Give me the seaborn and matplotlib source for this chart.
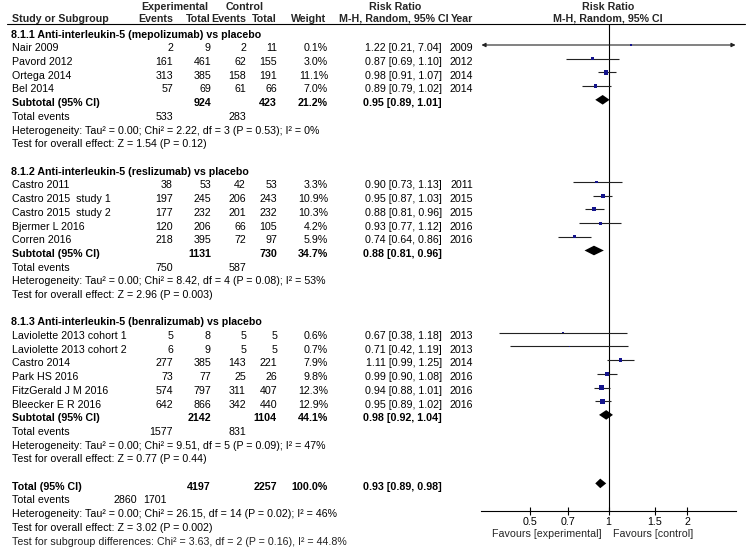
import matplotlib
matplotlib.use("Agg")
import matplotlib.pyplot as plt
from matplotlib.ticker import NullLocator
import numpy as np
import pandas as pd
import seaborn as sns

# ---------------- data ----------------
group_titles = [
    "8.1.1 Anti-interleukin-5 (mepolizumab) vs placebo",
    "8.1.2 Anti-interleukin-5 (reslizumab) vs placebo",
    "8.1.3 Anti-interleukin-5 (benralizumab) vs placebo",
]
study_group = [0, 0, 0, 0, 1, 1, 1, 1, 1, 2, 2, 2, 2, 2, 2]
studies = ["Nair 2009", "Pavord 2012", "Ortega 2014", "Bel 2014",
           "Castro 2011", "Castro 2015  study 1", "Castro 2015  study 2",
           "Bjermer L 2016", "Corren 2016",
           "Laviolette 2013 cohort 1", "Laviolette 2013 cohort 2", "Castro 2014",
           "Park HS 2016", "FitzGerald J M 2016", "Bleecker E R 2016"]
exp_events = [2, 161, 313, 57, 38, 197, 177, 120, 218, 5, 6, 277, 73, 574, 642]
exp_total = [9, 461, 385, 69, 53, 245, 232, 206, 395, 8, 9, 385, 77, 797, 866]
ctrl_events = [2, 62, 158, 61, 42, 206, 201, 66, 72, 5, 5, 143, 25, 311, 342]
ctrl_total = [11, 155, 191, 66, 53, 243, 232, 105, 97, 5, 5, 221, 26, 407, 440]
weight = [0.1, 3.0, 11.1, 7.0, 3.3, 10.9, 10.3, 4.2, 5.9, 0.6, 0.7, 7.9, 9.8, 12.3, 12.9]
rr = [1.22, 0.87, 0.98, 0.89, 0.90, 0.95, 0.88, 0.93, 0.74, 0.67, 0.71, 1.11, 0.99, 0.94, 0.95]
rr_lo = [0.21, 0.69, 0.91, 0.79, 0.73, 0.87, 0.81, 0.77, 0.64, 0.38, 0.42, 0.99, 0.90, 0.88, 0.89]
rr_hi = [7.04, 1.10, 1.07, 1.02, 1.13, 1.03, 0.96, 1.12, 0.86, 1.18, 1.19, 1.25, 1.08, 1.01, 1.02]
year = [2009, 2012, 2014, 2014, 2011, 2015, 2015, 2016, 2016, 2013, 2013, 2014, 2016, 2016, 2016]

sub_exp_total = [924, 1131, 2142]
sub_ctrl_total = [423, 730, 1104]
sub_weight = [21.2, 34.7, 44.1]
sub_rr = [0.95, 0.88, 0.98]
sub_lo = [0.89, 0.81, 0.92]
sub_hi = [1.01, 0.96, 1.04]
sub_exp_events = [533, 750, 1577]
sub_ctrl_events = [283, 587, 831]
sub_het = [
    "Heterogeneity: Tau\u00b2 = 0.00; Chi\u00b2 = 2.22, df = 3 (P = 0.53); I\u00b2 = 0%",
    "Heterogeneity: Tau\u00b2 = 0.00; Chi\u00b2 = 8.42, df = 4 (P = 0.08); I\u00b2 = 53%",
    "Heterogeneity: Tau\u00b2 = 0.00; Chi\u00b2 = 9.51, df = 5 (P = 0.09); I\u00b2 = 47%",
]
sub_test = [
    "Test for overall effect: Z = 1.54 (P = 0.12)",
    "Test for overall effect: Z = 2.96 (P = 0.003)",
    "Test for overall effect: Z = 0.77 (P = 0.44)",
]
tot_exp_total = 4197
tot_ctrl_total = 2257
tot_weight = 100.0
tot_rr, tot_lo, tot_hi = 0.93, 0.89, 0.98
tot_exp_events = 2860
tot_ctrl_events = 1701
tot_het = "Heterogeneity: Tau\u00b2 = 0.00; Chi\u00b2 = 26.15, df = 14 (P = 0.02); I\u00b2 = 46%"
tot_test = "Test for overall effect: Z = 3.02 (P = 0.002)"
subgroup_test = "Test for subgroup differences: Chi\u00b2 = 3.63, df = 2 (P = 0.16), I\u00b2 = 44.8%"

tick_values = [0.5, 0.7, 1, 1.5, 2]
tick_labels = ["0.5", "0.7", "1", "1.5", "2"]
favours_left = "Favours [experimental]"
favours_right = "Favours [control]"

# ---------------- style ----------------
sns.set_theme(style="white")
plt.rcParams["font.family"] = ["Liberation Sans", "DejaVu Sans"]
FS = 7.7
W, H = 748, 551
fig = plt.figure(figsize=(W / 100, H / 100), dpi=100)
fig.patch.set_facecolor("white")

bg = fig.add_axes([0, 0, 1, 1])
bg.set_xlim(0, W)
bg.set_ylim(H, 0)
bg.axis("off")

ROW0, DY = 31.3, 13.7
BASE = 6.4


def ypix(r):
    return ROW0 + DY * r


def put(x, r, s, ha="left", bold=False, color="black"):
    bg.text(x, ypix(r) + BASE, s, ha=ha, va="baseline", fontsize=FS,
            fontweight="bold" if bold else "normal", color=color)


# column right edges
C_EE, C_ET, C_CE, C_CT, C_W, C_RR, C_Y = 173, 211, 246, 277, 328, 442, 473
X_NAME = 12

# header
bg.text(175, 9.5, "Experimental", ha="center", va="baseline", fontsize=FS, fontweight="bold")
bg.text(245, 9.5, "Control", ha="center", va="baseline", fontsize=FS, fontweight="bold")
bg.text(395, 9.5, "Risk Ratio", ha="center", va="baseline", fontsize=FS, fontweight="bold")
bg.text(608, 9.5, "Risk Ratio", ha="center", va="baseline", fontsize=FS, fontweight="bold")
for x, s, ha in [(X_NAME, "Study or Subgroup", "left"), (C_EE, "Events", "right"),
                 (C_ET, "Total", "right"), (C_CE, "Events", "right"),
                 (C_CT, "Total", "right"), (C_W - 2, "Weight", "right"),
                 (394, "M-H, Random, 95% CI", "center"), (C_Y, "Year", "right"),
                 (608, "M-H, Random, 95% CI", "center")]:
    bg.text(x, 21.5, s, ha=ha, va="baseline", fontsize=FS, fontweight="bold")
bg.plot([7, 745], [23.5, 23.5], color="black", lw=0.8)

# ---------------- rows ----------------
df = pd.DataFrame(dict(study=studies, group=study_group, ee=exp_events, et=exp_total,
                       ce=ctrl_events, ct=ctrl_total, w=weight, rr=rr, lo=rr_lo,
                       hi=rr_hi, year=year))
df["row"] = 0.0
sub_rows = []
r = 0
for g, title in enumerate(group_titles):
    put(X_NAME - 1, r, title, bold=True)
    r += 1
    for i in df.index[df.group == g]:
        row = df.loc[i]
        df.loc[i, "row"] = r
        put(X_NAME, r, row.study)
        put(C_EE, r, f"{row.ee}", "right")
        put(C_ET, r, f"{row.et}", "right")
        put(C_CE, r, f"{row.ce}", "right")
        put(C_CT, r, f"{row.ct}", "right")
        put(C_W, r, f"{row.w:.1f}%", "right")
        put(C_RR, r, f"{row.rr:.2f} [{row.lo:.2f}, {row.hi:.2f}]", "right")
        put(C_Y, r, f"{row.year}", "right")
        r += 1
    sub_rows.append(r)
    put(X_NAME, r, "Subtotal (95% CI)", bold=True)
    put(C_ET, r, f"{sub_exp_total[g]}", "right", True)
    put(C_CT, r, f"{sub_ctrl_total[g]}", "right", True)
    put(C_W, r, f"{sub_weight[g]:.1f}%", "right", True)
    put(C_RR, r, f"{sub_rr[g]:.2f} [{sub_lo[g]:.2f}, {sub_hi[g]:.2f}]", "right", True)
    r += 1
    put(X_NAME, r, "Total events")
    put(C_EE, r, f"{sub_exp_events[g]}", "right")
    put(C_CE, r, f"{sub_ctrl_events[g]}", "right")
    r += 1
    put(X_NAME, r, sub_het[g])
    r += 1
    put(X_NAME, r, sub_test[g])
    r += 2

tot_row = r
put(X_NAME, r, "Total (95% CI)", bold=True)
put(C_ET, r, f"{tot_exp_total}", "right", True)
put(C_CT, r, f"{tot_ctrl_total}", "right", True)
put(C_W, r, f"{tot_weight:.1f}%", "right", True)
put(C_RR, r, f"{tot_rr:.2f} [{tot_lo:.2f}, {tot_hi:.2f}]", "right", True)
r += 1
put(X_NAME, r, "Total events")
put(137, r, f"{tot_exp_events}", "right")
put(167, r, f"{tot_ctrl_events}", "right")
r += 1
put(X_NAME, r, tot_het)
r += 1
put(X_NAME, r, tot_test)
r += 1
put(X_NAME, r, subgroup_test, color="#222222")

# ---------------- forest panel ----------------
AX_L, AX_R, AX_T, AX_B = 481, 736, 23.5, 511
ax = fig.add_axes([AX_L / W, 1 - AX_B / H, (AX_R - AX_L) / W, (AX_B - AX_T) / H])
ax.set_facecolor("none")
ax.set_xscale("log")
XLIM = (1 / 3.07, 3.07)
ax.set_xlim(*XLIM)
ax.set_ylim(AX_B, AX_T)
df["y"] = ypix(df["row"])

ax.axvline(1, color="black", lw=0.8, zorder=1)

for _, row in df.iterrows():
    lo_c = max(row.lo, XLIM[0] * 1.004)
    hi_c = min(row.hi, XLIM[1] / 1.004)
    left_clip = row.lo < XLIM[0]
    right_clip = row.hi > XLIM[1]
    if left_clip or right_clip:
        style = ("<|-" if left_clip else "-") + ("|>" if right_clip else "")
        ax.annotate("", xy=(hi_c, row.y), xytext=(lo_c, row.y),
                    arrowprops=dict(arrowstyle=style, color="#222222", lw=0.8,
                                    shrinkA=0, shrinkB=0, mutation_scale=6),
                    zorder=2)
    else:
        ax.hlines(row.y, lo_c, hi_c, color="#222222", lw=0.8, zorder=2)

sns.scatterplot(data=df, x="rr", y="y", size="w", sizes=(0.8, 11), size_norm=(0.1, 12.9),
                marker="s", color="#14148c", linewidth=0, legend=False, ax=ax, zorder=3)

diam = [(sub_rr[g], sub_lo[g], sub_hi[g], ypix(sub_rows[g])) for g in range(3)]
diam.append((tot_rr, tot_lo, tot_hi, ypix(tot_row)))
for c, lo, hi, y in diam:
    ax.fill([lo, c, hi, c], [y, y - 4.8, y, y + 4.8], color="black", lw=0, zorder=3)

ax.set_xlabel("")
ax.set_ylabel("")
for s in ["top", "left", "right"]:
    ax.spines[s].set_visible(False)
ax.spines["bottom"].set_color("black")
ax.spines["bottom"].set_linewidth(0.8)
ax.set_yticks([])
ax.set_xticks(tick_values)
ax.set_xticklabels(tick_labels)
ax.xaxis.set_minor_locator(NullLocator())
ax.tick_params(axis="x", direction="inout", length=6, width=0.8, labelsize=FS,
               pad=1.5, colors="black", bottom=True)

bg.text(602, 537, favours_left, ha="right", va="baseline", fontsize=FS)
bg.text(613, 537, favours_right, ha="left", va="baseline", fontsize=FS)

fig.savefig("out.png", dpi=100, facecolor="white")
